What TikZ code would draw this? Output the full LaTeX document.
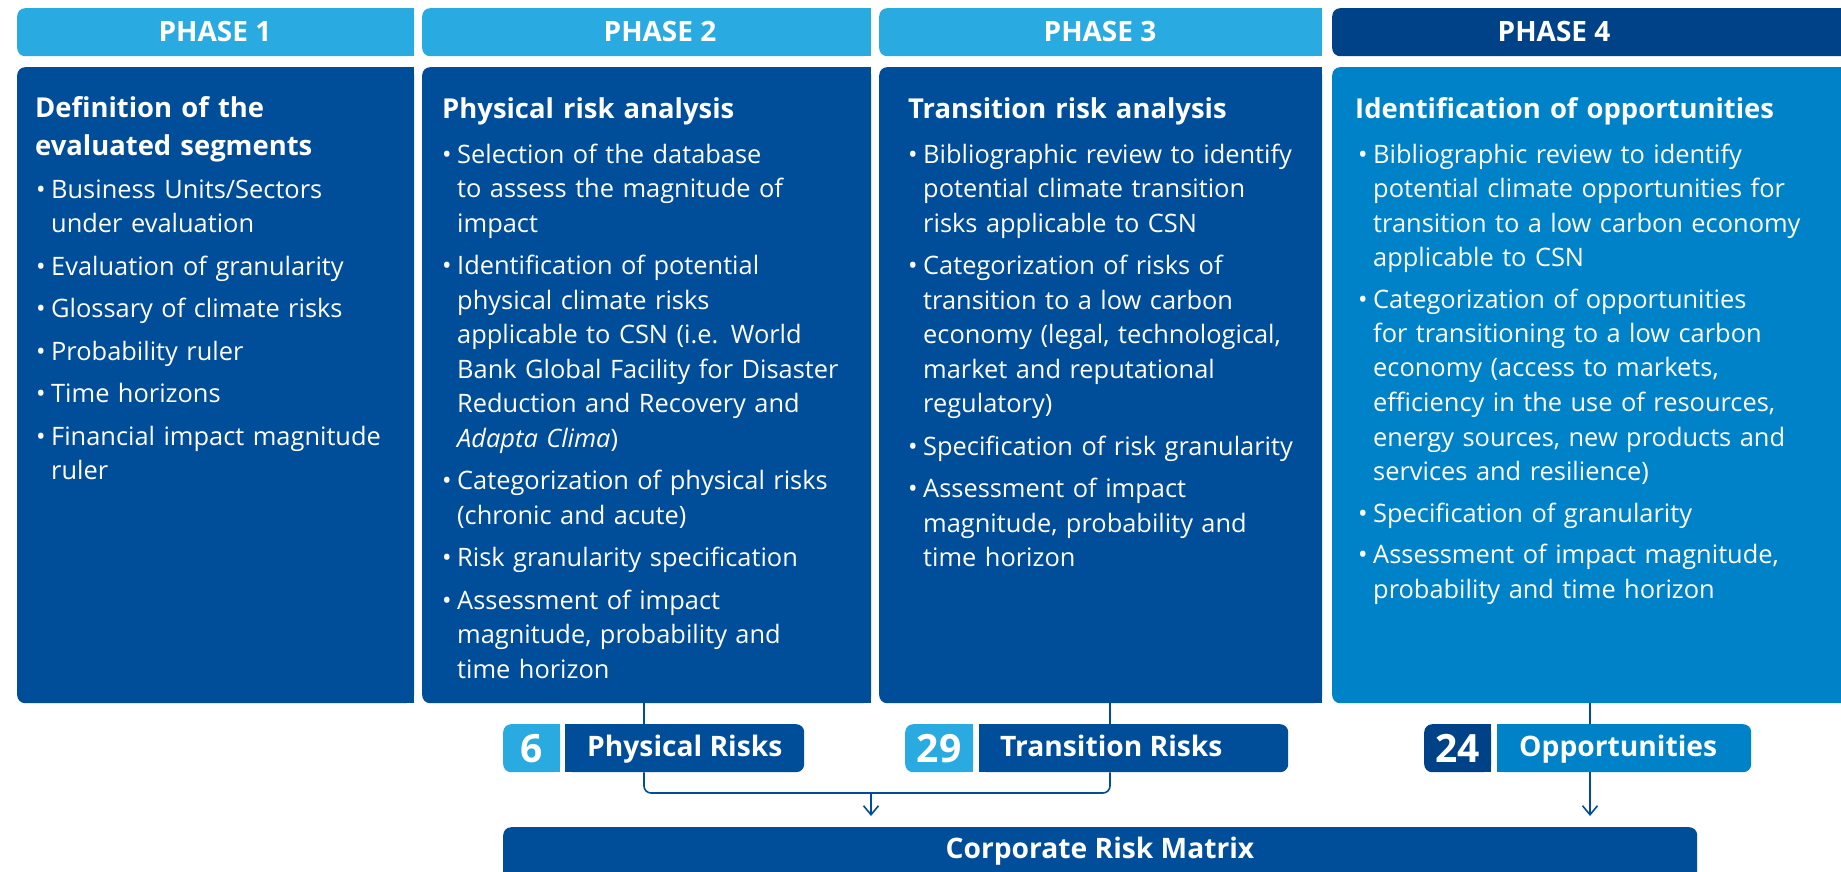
\documentclass[tikz,border=0pt]{standalone}
\usepackage{fontspec}
\setmainfont{Open Sans}
\usetikzlibrary{arrows.meta,calc}
\definecolor{lblue}{RGB}{41,170,225}
\definecolor{dblue}{RGB}{0,77,153}
\definecolor{navy}{RGB}{0,66,135}
\definecolor{mblue}{RGB}{0,130,201}
\newcommand\bodyfont{\fontsize{25.4pt}{34.5pt}\selectfont}
\newcommand\headfont{\fontsize{27.4pt}{37pt}\selectfont\bfseries}
\newcommand\phfont{\fontsize{28pt}{30pt}\selectfont\bfseries}
\newcommand\bdgfont{\fontsize{28.2pt}{30pt}\selectfont\bfseries}
\newcommand\numfont{\fontsize{39pt}{40pt}\selectfont\bfseries}
\newcommand\bitem[1]{\hangindent=14pt\hangafter=1\noindent\makebox[14pt][l]{\kern-1pt\textbullet}#1\par}
% left-rounded box
\newcommand\lbox[6]{%
  \fill[#2] ({(#3+#5)/2},#4) rectangle (#5,#6);
  \node[fill=#2,rounded corners=8pt,inner sep=0pt,minimum width={#5-#3},minimum height={#6-#4},anchor=north west] (#1) at (#3,#4) {};}
% right-rounded box
\newcommand\rbox[6]{%
  \fill[#2] (#3,#4) rectangle ({(#3+#5)/2},#6);
  \node[fill=#2,rounded corners=8pt,inner sep=0pt,minimum width={#5-#3},minimum height={#6-#4},anchor=north west] (#1) at (#3,#4) {};}
% top-rounded box
\newcommand\tbox[6]{%
  \fill[#2] (#3,{(#4+#6)/2}) rectangle (#5,#6);
  \node[fill=#2,rounded corners=8pt,inner sep=0pt,minimum width={#5-#3},minimum height={#6-#4},anchor=north west] (#1) at (#3,#4) {};}
\begin{document}
\begin{tikzpicture}[x=1pt,y=-1pt,
  hdrtxt/.style={font=\phfont,text=white,inner sep=0pt,anchor=center},
  hd/.style={font=\headfont,text=white,inner sep=0pt,anchor=base west,text width=480pt,align=left},
  lst/.style={font=\bodyfont,text=white,inner sep=0pt,anchor=base west,text width=480pt,align=left},
  bdg/.style={font=\bdgfont,text=white,inner sep=0pt,anchor=base west},
  num/.style={font=\numfont,text=white,inner sep=0pt,anchor=center},
  conn/.style={draw=dblue,line width=1.6pt},
  tip/.style={-{Straight Barb[length=9pt,width=15pt]}}]
\useasboundingbox (0,0) rectangle (1841,872);
\clip (0,0) rectangle (1841,872);
\fill[white] (0,0) rectangle (1841,872);
% headers
\lbox{h1}{lblue}{17}{8}{414}{56}
\lbox{h2}{lblue}{422}{8}{871}{56}
\lbox{h3}{lblue}{879}{8}{1322}{56}
\lbox{h4}{navy}{1332}{8}{1860}{56}
\node[hdrtxt] (t1) at (215,32) {PHASE 1};
\node[hdrtxt] (t2) at (660,32) {PHASE 2};
\node[hdrtxt] (t3) at (1100,32) {PHASE 3};
\node[hdrtxt] (t4) at (1554,32) {PHASE 4};
% bodies
\lbox{b1}{dblue}{17}{67}{414}{703}
\lbox{b2}{dblue}{422}{67}{871}{703}
\lbox{b3}{dblue}{879}{67}{1322}{703}
\lbox{b4}{mblue}{1332}{67}{1860}{703}
% headings
\node[hd] (hd1) at (35,118) {Definition of the\newline evaluated segments};
\node[hd] (hd2) at (442,119) {Physical risk analysis};
\node[hd] (hd3) at (908,119) {Transition risk analysis};
\node[hd] (hd4) at (1355,119) {Identification of opportunities};
% lists
\node[lst] (l1) at (37,198) {\setlength{\parskip}{8pt}%
\bitem{Business Units/Sectors\newline under evaluation}
\bitem{Evaluation of granularity}
\bitem{Glossary of climate risks}
\bitem{Probability ruler}
\bitem{Time horizons}
\bitem{Financial impact magnitude\newline ruler}};
\node[lst] (l2) at (443,163) {\setlength{\parskip}{8pt}%
\bitem{Selection of the database\newline to assess the magnitude of\newline impact}
\bitem{Identification of potential\newline physical climate risks\newline applicable to CSN (i.e. World\newline Bank Global Facility for Disaster\newline Reduction and Recovery and\newline \textit{Adapta Clima})}
\bitem{Categorization of physical risks\newline (chronic and acute)}
\bitem{Risk granularity specification}
\bitem{Assessment of impact\newline magnitude, probability and\newline time horizon}};
\node[lst] (l3) at (909,163) {\setlength{\parskip}{8pt}%
\bitem{Bibliographic review to identify\newline potential climate transition\newline risks applicable to CSN}
\bitem{Categorization of risks of\newline transition to a low carbon\newline economy (legal, technological,\newline market and reputational\newline regulatory)}
\bitem{Specification of risk granularity}
\bitem{Assessment of impact\newline magnitude, probability and\newline time horizon}};
\node[lst] (l4) at (1359,163) {\setlength{\parskip}{7pt}%
\bitem{Bibliographic review to identify\newline potential climate opportunities for\newline transition to a low carbon economy\newline applicable to CSN}
\bitem{Categorization of opportunities\newline for transitioning to a low carbon\newline economy (access to markets,\newline efficiency in the use of resources,\newline energy sources, new products and\newline services and resilience)}
\bitem{Specification of granularity}
\bitem{Assessment of impact magnitude,\newline probability and time horizon}};
% badges
\lbox{n6}{lblue}{503}{724}{560}{772}
\rbox{pr}{dblue}{565}{724}{804}{772}
\lbox{n29}{lblue}{905}{724}{973}{772}
\rbox{tr}{dblue}{979}{724}{1288}{772}
\lbox{n24}{navy}{1424}{724}{1491}{772}
\rbox{op}{mblue}{1497}{724}{1751}{772}
\node[num] (x6) at (n6.center) {6};
\node[num] (x29) at (n29.center) {29};
\node[num] (x24) at (n24.center) {24};
\node[bdg] (y6) at (587,756) {Physical Risks};
\node[bdg] (y29) at (1000,756) {Transition Risks};
\node[bdg] (y24) at (1519,756) {Opportunities};
% matrix
\tbox{crm}{dblue}{503}{827}{1697}{900}
\node[bdg,anchor=base] (crmt) at (1100,858) {Corporate Risk Matrix};
% connectors
\coordinate (k2) at (644,0);
\coordinate (k3) at (1110,0);
\coordinate (k4) at (1590,0);
\coordinate (jn) at (871,793);
\draw[conn] (k2 |- b2.south) -- (k2 |- pr.north);
\draw[conn] (k3 |- b3.south) -- (k3 |- tr.north);
\draw[conn] (k4 |- b4.south) -- (k4 |- op.north);
\draw[conn,rounded corners=7pt] (k2 |- pr.south) -- (k2 |- jn) -- (k3 |- jn) -- (k3 |- tr.south);
\draw[conn,tip] (jn) -- ($(jn |- crm.north)+(0,-11)$);
\draw[conn,tip] (k4 |- op.south) -- ($(k4 |- crm.north)+(0,-11)$);
\end{tikzpicture}
\end{document}
